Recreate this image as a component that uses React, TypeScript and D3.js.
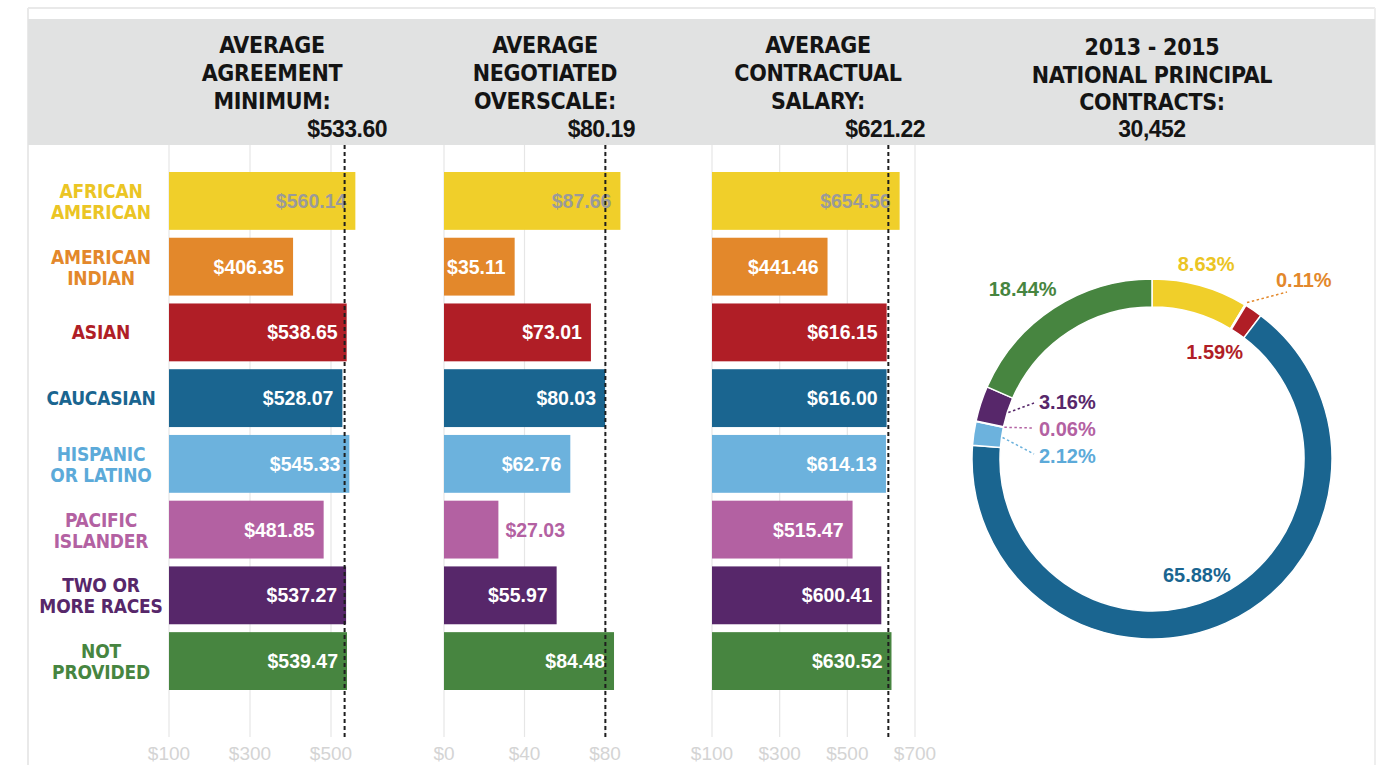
import React from 'react';
import * as d3 from 'd3';

// ---------- DATA ----------
const categories = [
  'AFRICAN AMERICAN', 'AMERICAN INDIAN', 'ASIAN', 'CAUCASIAN',
  'HISPANIC OR LATINO', 'PACIFIC ISLANDER', 'TWO OR MORE RACES', 'NOT PROVIDED',
];
const categoryLines = [
  ['AFRICAN', 'AMERICAN'], ['AMERICAN', 'INDIAN'], ['ASIAN'], ['CAUCASIAN'],
  ['HISPANIC', 'OR LATINO'], ['PACIFIC', 'ISLANDER'], ['TWO OR', 'MORE RACES'], ['NOT', 'PROVIDED'],
];
const agreementMinimum = [560.14, 406.35, 538.65, 528.07, 545.33, 481.85, 537.27, 539.47];
const negotiatedOverscale = [87.66, 35.11, 73.01, 80.03, 62.76, 27.03, 55.97, 84.48];
const contractualSalary = [654.56, 441.46, 616.15, 616.0, 614.13, 515.47, 600.41, 630.52];
const contractShares = [8.63, 0.11, 1.59, 65.88, 2.12, 0.06, 3.16, 18.44];

const panelTitles = [
  ['AVERAGE', 'AGREEMENT', 'MINIMUM:'],
  ['AVERAGE', 'NEGOTIATED', 'OVERSCALE:'],
  ['AVERAGE', 'CONTRACTUAL', 'SALARY:'],
];
const panelAverages = [533.6, 80.19, 621.22];
const donutTitle = ['2013 - 2015', 'NATIONAL PRINCIPAL', 'CONTRACTS:'];
const donutTotal = '30,452';

const ticksMinimum = [100, 300, 500];
const ticksOverscale = [0, 40, 80];
const ticksSalary = [100, 300, 500, 700];

// ---------- STYLE ----------
const barColors = ['#F0CF2A', '#E3882B', '#B01E26', '#1A6590', '#6CB2DD', '#B361A2', '#57276A', '#478540'];
const labelColors = ['#EBC524', '#E3882B', '#B01E26', '#1A6590', '#5CAAD9', '#B361A2', '#57276A', '#478540'];
const valueTextColors = ['#9A9A9A', '#fff', '#fff', '#fff', '#fff', '#fff', '#fff', '#fff'];

const NARROW = '"Liberation Sans Narrow", "DejaVu Sans Condensed", "Arial Narrow", "Roboto", sans-serif';
const WIDE = '"Liberation Sans", Arial, "Roboto", sans-serif';

// donut label layout (style, not data)
const donutLabelLayout: any[] = [
  { mode: 'polar', r: 202, da: 0 },
  { mode: 'leader', from: 183, tx: 1276, ty: 287, lx: 1287, ly: 292 },
  { mode: 'polar', r: 124, da: -4 },
  { mode: 'polar', r: 124, da: 3 },
  { mode: 'leader', from: 151, tx: 1039, ty: 463, lx: 1034, ly: 454 },
  { mode: 'leader', from: 151, tx: 1039, ty: 436, lx: 1034, ly: 428 },
  { mode: 'leader', from: 151, tx: 1039, ty: 409, lx: 1034, ly: 403 },
  { mode: 'polar', r: 214, da: -4 },
];

const fmtMoney = (v: number) => '$' + d3.format(',.2f')(v);

export default function App() {
  const W = 1386, H = 765;
  const headerTop = 19, headerBottom = 145;
  const gridBottom = 737;

  const y = d3.scaleBand<string>().domain(categories).range([172, 690]).paddingInner(0.12).paddingOuter(0);

  const panels = [
    { values: agreementMinimum, x: d3.scaleLinear().domain([100, 500]).range([169, 331]), base: 100, ticks: ticksMinimum, titleX: 272, avgRight: 387 },
    { values: negotiatedOverscale, x: d3.scaleLinear().domain([0, 80]).range([444, 605]), base: 0, ticks: ticksOverscale, titleX: 545, avgRight: 635 },
    { values: contractualSalary, x: d3.scaleLinear().domain([100, 700]).range([712, 915]), base: 100, ticks: ticksSalary, titleX: 818, avgRight: 925 },
  ];

  const cx = 1152, cy = 459, rOuter = 180, rInner = 152;
  const pie = d3.pie<number>().sort(null).value((d) => d).startAngle(0).endAngle(2 * Math.PI);
  const arcs = pie(contractShares);
  const arcGen = d3.arc<d3.PieArcDatum<number>>().innerRadius(rInner).outerRadius(rOuter);

  const titleLineY = [53, 81, 109];

  return (
    <svg width={W} height={H} style={{ position: 'absolute', left: 0, top: 0, background: '#fff' }}>
      {/* frame */}
      <line x1={28} x2={1375} y1={8} y2={8} stroke="#E9E9E9" strokeWidth={2} />
      <line x1={28} x2={28} y1={8} y2={H} stroke="#E9E9E9" strokeWidth={2} />
      <line x1={1375} x2={1375} y1={8} y2={H} stroke="#EEEEEE" strokeWidth={2} />
      <rect x={28} y={headerTop} width={1347} height={headerBottom - headerTop} fill="#E1E2E2" />

      {/* panel titles */}
      {panels.map((p, i) => (
        <g key={'t' + i} fontFamily={NARROW} fontWeight={700} fontSize={23} fill="#141414" letterSpacing={-0.3}>
          {panelTitles[i].map((t, j) => (
            <text key={j} x={p.titleX} y={titleLineY[j]} textAnchor="middle">{t}</text>
          ))}
          <text x={p.avgRight} y={137} textAnchor="end" fontFamily={WIDE} fontSize={23} letterSpacing={-0.5}>{fmtMoney(panelAverages[i])}</text>
        </g>
      ))}
      <g fontFamily={NARROW} fontWeight={700} fontSize={23} fill="#141414" letterSpacing={-0.3}>
        {donutTitle.map((t, j) => (
          <text key={j} x={cx} y={[55, 83, 110][j]} textAnchor="middle">{t}</text>
        ))}
        <text x={cx} y={137} textAnchor="middle" fontFamily={WIDE} fontSize={23} letterSpacing={-0.5}>{donutTotal}</text>
      </g>

      {/* gridlines and ticks */}
      {panels.map((p, i) => (
        <g key={'g' + i}>
          {p.ticks.map((t) => (
            <g key={t}>
              <line x1={p.x(t)} x2={p.x(t)} y1={headerBottom} y2={gridBottom} stroke="#E6E6E6" strokeWidth={1.2} />
              <text x={p.x(t)} y={760} textAnchor="middle" fontFamily={WIDE} fontSize={19} fill="#D4D4D4">{'$' + t}</text>
            </g>
          ))}
        </g>
      ))}

      {/* category labels */}
      {categories.map((c, i) => {
        const mid = (y(c) as number) + y.bandwidth() / 2;
        const lines = categoryLines[i];
        return (
          <g key={'c' + i} fontFamily={NARROW} fontWeight={700} fontSize={19} fill={labelColors[i]} letterSpacing={-0.2}>
            {lines.length === 1 ? (
              <text x={101} y={mid + 7} textAnchor="middle">{lines[0]}</text>
            ) : (
              lines.map((l, j) => (
                <text key={j} x={101} y={mid - 3 + j * 21} textAnchor="middle">{l}</text>
              ))
            )}
          </g>
        );
      })}

      {/* bars */}
      {panels.map((p, i) => (
        <g key={'b' + i}>
          {p.values.map((v, k) => {
            const c = categories[k];
            const x0 = p.x(p.base);
            const x1 = p.x(v);
            const yy = y(c) as number;
            const mid = yy + y.bandwidth() / 2;
            const inside = x1 - x0 > 62;
            return (
              <g key={k}>
                <rect x={x0} y={yy} width={x1 - x0} height={y.bandwidth()} fill={barColors[k]} />
                <text
                  x={inside ? x1 - 9 : x1 + 7}
                  y={mid + 7}
                  textAnchor={inside ? 'end' : 'start'}
                  fontFamily={WIDE}
                  fontWeight={700}
                  fontSize={19.5}
                  fill={inside ? valueTextColors[k] : barColors[k]}
                >
                  {fmtMoney(v)}
                </text>
              </g>
            );
          })}
          <line
            x1={p.x(panelAverages[i])}
            x2={p.x(panelAverages[i])}
            y1={headerBottom}
            y2={gridBottom}
            stroke="#1E1E1E"
            strokeWidth={2}
            strokeDasharray="4,3"
          />
        </g>
      ))}

      {/* donut */}
      <g transform={`translate(${cx},${cy})`}>
        {arcs.map((a, i) => (
          <path key={i} d={arcGen(a) as string} fill={barColors[i]} stroke="#fff" strokeWidth={1.5} />
        ))}
      </g>
      {arcs.map((a, i) => {
        const L = donutLabelLayout[i];
        const ang = (a.startAngle + a.endAngle) / 2;
        const label = d3.format('.2f')(contractShares[i]) + '%';
        if (L.mode === 'polar') {
          const aa = ang + (L.da * Math.PI) / 180;
          const px = cx + L.r * Math.sin(aa);
          const py = cy - L.r * Math.cos(aa);
          return (
            <text key={i} x={px} y={py + 7} textAnchor="middle" fontFamily={WIDE} fontWeight={700} fontSize={20} fill={labelColors[i]}>
              {label}
            </text>
          );
        }
        const sx = cx + L.from * Math.sin(ang);
        const sy = cy - L.from * Math.cos(ang);
        return (
          <g key={i}>
            <line x1={sx} y1={sy} x2={L.lx} y2={L.ly} stroke={barColors[i]} strokeWidth={1.5} strokeDasharray="2.5,2.5" />
            <text x={L.tx} y={L.ty} textAnchor="start" fontFamily={WIDE} fontWeight={700} fontSize={20} fill={labelColors[i]}>
              {label}
            </text>
          </g>
        );
      })}
    </svg>
  );
}
